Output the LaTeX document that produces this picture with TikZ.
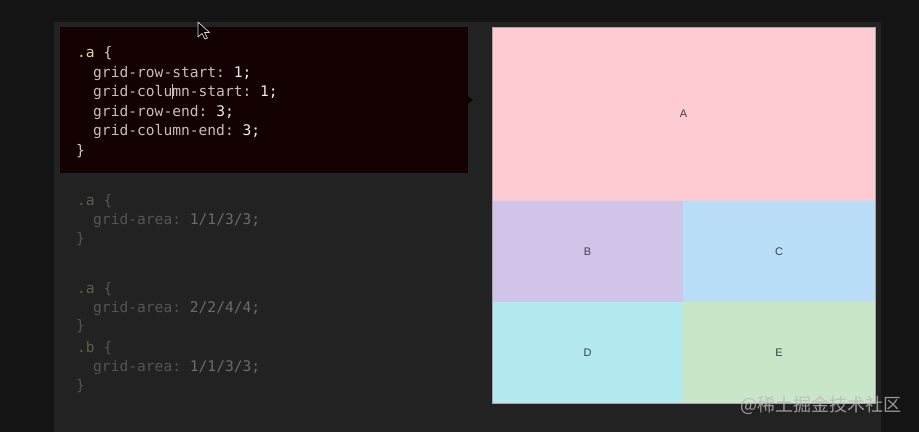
\documentclass[tikz,border=0pt]{standalone}
\usepackage{fontspec}
\setmainfont{Liberation Sans}
\setmonofont{DejaVu Sans Mono}
\newfontfamily\cjk{Noto Sans CJK SC}
\usetikzlibrary{positioning}

\definecolor{outer}{RGB}{20,20,20}
\definecolor{panel}{RGB}{34,34,34}
\definecolor{codebg}{RGB}{20,2,3}
\definecolor{selc}{RGB}{222,214,150}
\definecolor{propc}{RGB}{205,186,186}
\definecolor{numc}{RGB}{244,236,236}
\definecolor{bracec}{RGB}{215,200,200}
\definecolor{dimsel}{RGB}{95,95,72}
\definecolor{dimprop}{RGB}{84,84,84}
\definecolor{dimnum}{RGB}{108,108,108}
\definecolor{cA}{RGB}{255,203,211}
\definecolor{cB}{RGB}{210,195,232}
\definecolor{cC}{RGB}{187,222,248}
\definecolor{cD}{RGB}{179,234,239}
\definecolor{cE}{RGB}{201,230,201}
\definecolor{labc}{RGB}{60,60,70}

\tikzset
{
    codeline/.style = {anchor=base west, inner sep=0pt, font=\ttfamily\fontsize{14.6}{16}\selectfont},
    dimline/.style  = {codeline, text=dimprop},
    cell/.style     = {rectangle, inner sep=0pt, outer sep=0pt, text=labc, font=\fontsize{11}{12}\selectfont}
}

\begin{document}
\begin{tikzpicture}[x=1pt,y=-1pt]
\useasboundingbox (0,0) rectangle (919,432);
\fill[outer] (0,0) rectangle (919,432);
\fill[panel] (54,22) rectangle (881,432);
% code box on top
\fill[codebg] (60,27) rectangle (468,173);
\fill[codebg] (468,96) -- (473,100) -- (468,104) -- cycle;
\node [codeline] at (77,57) (l1) {\textcolor{selc}{.a} \textcolor{bracec}{\{}};
\node [codeline] at (93,77) (l2) {\textcolor{propc}{grid-row-start:} \textcolor{numc}{1;}};
\node [codeline] at (93,96) (l3) {\textcolor{propc}{grid-column-start:} \textcolor{numc}{1;}};
\node [codeline] at (93,116) (l4) {\textcolor{propc}{grid-row-end:} \textcolor{numc}{3;}};
\node [codeline] at (93,135) (l5) {\textcolor{propc}{grid-column-end:} \textcolor{numc}{3;}};
\node [codeline, text=bracec] at (76,155) (l6) {\}};
\draw[propc, line width=0.8pt] (172,84) -- (172,99);
% faded code
\node [dimline] at (77,205) (d1) {\textcolor{dimsel}{.a} \{};
\node [dimline] at (93,224) (d2) {grid-area: \textcolor{dimnum}{1/1/3/3;}};
\node [dimline] at (76,243) (d3) {\}};
\node [dimline] at (77,293) (d4) {\textcolor{dimsel}{.a} \{};
\node [dimline] at (93,312) (d5) {grid-area: \textcolor{dimnum}{2/2/4/4;}};
\node [dimline] at (76,330) (d6) {\}};
\node [dimline] at (77,352) (d7) {\textcolor{dimsel}{.b} \{};
\node [dimline] at (93,371) (d8) {grid-area: \textcolor{dimnum}{1/1/3/3;}};
\node [dimline] at (76,390) (d9) {\}};
% grid
\node [cell, fill=cA, minimum width=383pt, minimum height=174pt] at (683.5,114) (A) {A};
\node [cell, fill=cB, minimum width=191pt, minimum height=101pt] at (587.5,251.5) (B) {B};
\node [cell, fill=cC, minimum width=192pt, minimum height=101pt] at (779,251.5) (C) {C};
\node [cell, fill=cD, minimum width=191pt, minimum height=101pt] at (587.5,352.5) (D) {D};
\node [cell, fill=cE, minimum width=192pt, minimum height=101pt] at (779,352.5) (E) {E};
\draw[gray!70, line width=0.8pt] (A.north west) rectangle (E.south east);
% mouse pointer
\filldraw[fill=black, draw=white!85!black, line width=0.7pt, line join=round]
  (198,22) -- (198,37) -- (202,33.5) -- (205,39) -- (207.5,38) -- (204.5,32.5) -- (209.5,32.5) -- cycle;
% watermark
\node [text=white!72!black, opacity=0.8, font=\cjk\fontsize{18}{20}\selectfont, anchor=east, inner sep=0pt] at (902,405) (wm) {@稀土掘金技术社区};
\end{tikzpicture}
\end{document}
